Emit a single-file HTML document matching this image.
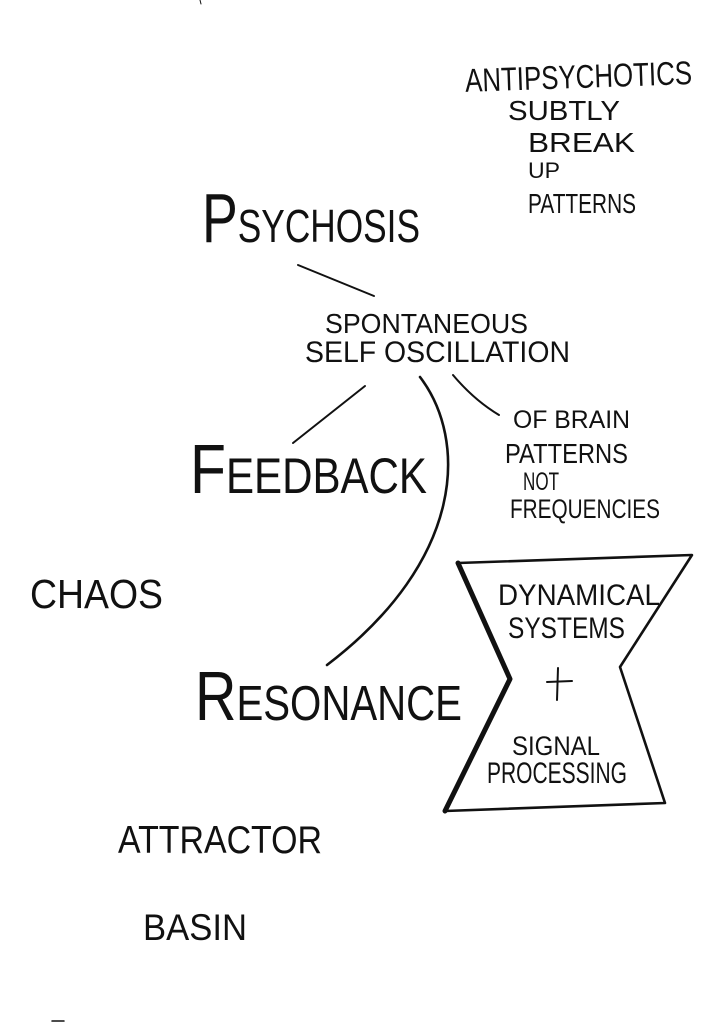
<!DOCTYPE html>
<html>
<head>
<meta charset="utf-8">
<style>
html,body{margin:0;padding:0;background:#fff;}
svg{display:block;}
text{font-family:"DejaVu Sans ExtraLight","Liberation Sans",sans-serif;font-weight:200;fill:#111;}
</style>
</head>
<body>
<svg width="714" height="1024" viewBox="0 0 714 1024" xmlns="http://www.w3.org/2000/svg">
<rect width="714" height="1024" fill="#fff"/>
<g stroke="#111" stroke-linecap="round" fill="none">
  <!-- psychosis connector -->
  <line x1="298" y1="265" x2="374" y2="296" stroke-width="2"/>
  <!-- feedback connector -->
  <line x1="365" y1="386" x2="293" y2="443" stroke-width="2"/>
  <!-- big curve to resonance -->
  <path d="M420,377 C468,440 465,560 327,665" stroke-width="2.6"/>
  <!-- connector to OF BRAIN -->
  <path d="M453,375 Q474,400 499,415" stroke-width="2"/>
  <!-- hourglass -->
  <path d="M458,563 L692,555 L620,667 L665,803 L445,811" stroke-width="2.6" stroke-linejoin="round"/>
  <path d="M458,563 L510,679 L445,811" stroke-width="5" stroke-linejoin="round"/>
  <!-- plus -->
  <line x1="558" y1="668" x2="557" y2="700" stroke-width="2"/>
  <line x1="547" y1="682" x2="572" y2="681" stroke-width="2"/>
  <!-- specks -->
  <line x1="200" y1="0" x2="201" y2="4" stroke-width="1"/>
  <line x1="52" y1="1021" x2="64" y2="1021" stroke-width="1.5"/>
</g>

<!-- top right note -->
<text x="465" y="88" font-size="33" textLength="227" lengthAdjust="spacingAndGlyphs" transform="rotate(-2 578 76)">ANTIPSYCHOTICS</text>
<text x="508" y="120" font-size="28" textLength="112" lengthAdjust="spacingAndGlyphs">SUBTLY</text>
<text x="528" y="152" font-size="28" textLength="107" lengthAdjust="spacingAndGlyphs">BREAK</text>
<text x="528" y="178" font-size="22" textLength="32" lengthAdjust="spacingAndGlyphs">UP</text>
<text x="528" y="213" font-size="28" textLength="108" lengthAdjust="spacingAndGlyphs">PATTERNS</text>

<!-- Psychosis -->
<text x="202" y="242" textLength="218" lengthAdjust="spacingAndGlyphs"><tspan font-size="70">P</tspan><tspan font-size="46">SYCHOSIS</tspan></text>

<!-- spontaneous -->
<text x="325" y="333" font-size="28" textLength="203" lengthAdjust="spacingAndGlyphs">SPONTANEOUS</text>
<text x="305" y="362" font-size="30" textLength="265" lengthAdjust="spacingAndGlyphs">SELF OSCILLATION</text>

<!-- feedback -->
<text x="190" y="493" textLength="237" lengthAdjust="spacingAndGlyphs"><tspan font-size="70">F</tspan><tspan font-size="50">EEDBACK</tspan></text>

<!-- of brain -->
<text x="513" y="428" font-size="25" textLength="117" lengthAdjust="spacingAndGlyphs">OF BRAIN</text>
<text x="505" y="463" font-size="28" textLength="123" lengthAdjust="spacingAndGlyphs">PATTERNS</text>
<text x="523" y="490" font-size="25" textLength="36" lengthAdjust="spacingAndGlyphs">NOT</text>
<text x="510" y="518" font-size="27" textLength="150" lengthAdjust="spacingAndGlyphs">FREQUENCIES</text>

<!-- chaos -->
<text x="30" y="608" font-size="41" textLength="133" lengthAdjust="spacingAndGlyphs">CHAOS</text>

<!-- resonance -->
<text x="195" y="720" textLength="267" lengthAdjust="spacingAndGlyphs"><tspan font-size="70">R</tspan><tspan font-size="49">ESONANCE</tspan></text>

<!-- hourglass text -->
<text x="498" y="605" font-size="30" textLength="162" lengthAdjust="spacingAndGlyphs">DYNAMICAL</text>
<text x="508" y="638" font-size="30" textLength="117" lengthAdjust="spacingAndGlyphs">SYSTEMS</text>
<text x="512" y="755" font-size="27" textLength="88" lengthAdjust="spacingAndGlyphs">SIGNAL</text>
<text x="487" y="783" font-size="30" textLength="140" lengthAdjust="spacingAndGlyphs">PROCESSING</text>

<!-- attractor basin -->
<text x="118" y="853" font-size="39" textLength="204" lengthAdjust="spacingAndGlyphs">ATTRACTOR</text>
<text x="143" y="940" font-size="37" textLength="104" lengthAdjust="spacingAndGlyphs">BASIN</text>
</svg>
</body>
</html>
